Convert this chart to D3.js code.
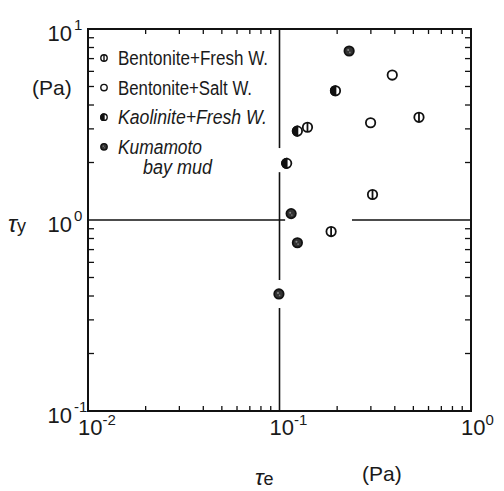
<!DOCTYPE html>
<html>
<head>
<meta charset="utf-8">
<script src="https://cdnjs.cloudflare.com/ajax/libs/d3/7.8.5/d3.min.js"></script>
<style>
  body { margin: 0; background: #fff; }
  text { font-family: "Liberation Sans", "DejaVu Sans", sans-serif; fill: #1a1a1a; }
</style>
</head>
<body>
<div id="vis"></div>
<script type="text/javascript">

    // series: tau_e (Pa) and tau_y (Pa)
    const legendLabels = ["Bentonite+Fresh W.", "Bentonite+Salt W.", "Kaolinite+Fresh W.", "Kumamoto"];
    const bentFreshTe = [0.140, 0.535, 0.306, 0.186];
    const bentFreshTy = [3.06, 3.45, 1.36, 0.87];
    const bentSaltTe = [0.388, 0.299];
    const bentSaltTy = [5.74, 3.23];
    const kaolTe = [0.196, 0.124, 0.109];
    const kaolTy = [4.75, 2.92, 1.98];
    const kumaTe = [0.231, 0.115, 0.124, 0.0993];
    const kumaTy = [7.67, 1.08, 0.76, 0.41];

    const xDecades = [-2, -1, 0];
    const yDecades = [-1, 0, 1];

    // reference cross lines (broken where the original leaves gaps)
    const hLineSegs = [[0.01, 0.107], [0.239, 1]];
    const vLineSegs = [[10, 2.38], [1.78, 0.485], [0.346, 0.1]];

    const W = 504, H = 491;
    const svg = d3.select("#vis").append("svg").attr("width", W).attr("height", H);

    const x = d3.scaleLog().domain([0.01, 1]).range([88, 471]);
    const y = d3.scaleLog().domain([0.1, 10]).range([411, 29]);

    // minor ticks
    const minor = [];
    for (let e = -2; e < 0; e++) for (let m = 2; m <= 9; m++) minor.push(m * Math.pow(10, e));
    const minorY = minor.map(v => v * 10);

    const tickG = svg.append("g").style("stroke", "#111").style("stroke-width", 1.3);
    tickG.selectAll(".tb").data(minor).enter().append("line")
        .attr("x1", d => x(d)).attr("x2", d => x(d))
        .attr("y1", y(0.1)).attr("y2", y(0.1) - 5);
    tickG.selectAll(".tt").data(minor).enter().append("line")
        .attr("x1", d => x(d)).attr("x2", d => x(d))
        .attr("y1", y(10)).attr("y2", y(10) + 5);
    tickG.selectAll(".tl").data(minorY).enter().append("line")
        .attr("x1", x(0.01)).attr("x2", x(0.01) + 6)
        .attr("y1", d => y(d)).attr("y2", d => y(d));
    tickG.selectAll(".tr").data(minorY).enter().append("line")
        .attr("x1", x(1)).attr("x2", x(1) - 6)
        .attr("y1", d => y(d)).attr("y2", d => y(d));

    // frame
    svg.append("rect")
        .attr("x", x(0.01)).attr("y", y(10))
        .attr("width", x(1) - x(0.01)).attr("height", y(0.1) - y(10))
        .style("fill", "none").style("stroke", "#111").style("stroke-width", 2);

    // cross lines
    svg.selectAll(".hl").data(hLineSegs).enter().append("line")
        .attr("x1", d => x(d[0])).attr("x2", d => x(d[1]))
        .attr("y1", y(1)).attr("y2", y(1))
        .style("stroke", "#111").style("stroke-width", 1.6);
    svg.selectAll(".vl").data(vLineSegs).enter().append("line")
        .attr("x1", x(0.1)).attr("x2", x(0.1))
        .attr("y1", d => y(d[0])).attr("y2", d => y(d[1]))
        .style("stroke", "#111").style("stroke-width", 1.6);

    // symbols
    function drawSymbol(g, kind, cx, cy, r) {
        const sw = r > 4 ? 1.8 : 1.4;
        if (kind === 0) {
            g.append("circle").attr("cx", cx).attr("cy", cy).attr("r", r)
                .style("fill", "#fff").style("stroke", "#111").style("stroke-width", sw);
            g.append("line").attr("x1", cx).attr("x2", cx).attr("y1", cy - r).attr("y2", cy + r)
                .style("stroke", "#111").style("stroke-width", sw);
        } else if (kind === 1) {
            g.append("circle").attr("cx", cx).attr("cy", cy).attr("r", r)
                .style("fill", "#fff").style("stroke", "#111").style("stroke-width", sw);
        } else if (kind === 2) {
            g.append("circle").attr("cx", cx).attr("cy", cy).attr("r", r)
                .style("fill", "#fff").style("stroke", "#111").style("stroke-width", sw);
            g.append("path")
                .attr("d", `M${cx},${cy - r} A${r},${r} 0 0 0 ${cx},${cy + r} Z`)
                .style("fill", "#111").style("stroke", "#111").style("stroke-width", sw);
        } else {
            g.append("circle").attr("cx", cx).attr("cy", cy).attr("r", r)
                .style("fill", "#333").style("stroke", "#111").style("stroke-width", sw);
            g.append("circle").attr("cx", cx - r * 0.2).attr("cy", cy - r * 0.2).attr("r", r * 0.22)
                .style("fill", "#888");
            g.append("circle").attr("cx", cx + r * 0.15).attr("cy", cy + r * 0.3).attr("r", r * 0.18)
                .style("fill", "#777");
        }
    }

    const series = [
        [bentFreshTe, bentFreshTy],
        [bentSaltTe, bentSaltTy],
        [kaolTe, kaolTy],
        [kumaTe, kumaTy]
    ];
    const pts = svg.append("g");
    series.forEach((s, k) => {
        s[0].forEach((te, i) => drawSymbol(pts, k, x(te), y(s[1][i]), 4.7));
    });

    // legend
    const legX = 104, legY0 = 58, legStep = 29.6;
    const legTextW = [150, 134, 149, 84];
    const leg = svg.append("g");
    legendLabels.forEach((lab, i) => {
        const cy = legY0 + i * legStep;
        drawSymbol(leg, i, legX, cy, 3.2);
        leg.append("text").attr("x", legX + 14).attr("y", cy + 7)
            .attr("font-size", 19.5)
            .attr("textLength", legTextW[i]).attr("lengthAdjust", "spacingAndGlyphs")
            .style("font-style", i >= 2 ? "italic" : "normal")
            .text(lab);
    });
    leg.append("text").attr("x", 143).attr("y", legY0 + 3 * legStep + 27)
        .attr("font-size", 19.5).attr("textLength", 69).attr("lengthAdjust", "spacingAndGlyphs")
        .style("font-style", "italic").text("bay mud");

    // tick labels
    const xl = svg.append("g");
    xDecades.forEach(e => {
        const t = xl.append("text").attr("x", x(Math.pow(10, e)) - 10).attr("y", 435)
            .attr("font-size", 22);
        t.append("tspan").text("10");
        t.append("tspan").attr("font-size", 15).attr("dy", -10).text(e === 0 ? "0" : "-" + Math.abs(e));
    });
    const yl = svg.append("g");
    yDecades.forEach(e => {
        const t = yl.append("text").attr("x", 72).attr("y", y(Math.pow(10, e)) + 12)
            .attr("font-size", 22).attr("text-anchor", "end");
        t.append("tspan").text("10");
    });
    yDecades.forEach(e => {
        yl.append("text").attr("x", 74).attr("y", y(Math.pow(10, e)) + 1)
            .attr("font-size", 15)
            .text(e === 0 ? "0" : (e < 0 ? "-" : "") + Math.abs(e));
    });

    // axis titles
    svg.append("text").attr("x", 32).attr("y", 95).attr("font-size", 21).text("(Pa)");
    const ty = svg.append("text").attr("x", 8).attr("y", y(1) + 12).attr("font-size", 24);
    ty.append("tspan").style("font-style", "italic").text("τ");
    ty.append("tspan").attr("font-size", 18).text("y");
    svg.append("text").attr("x", 362).attr("y", 481).attr("font-size", 21).text("(Pa)");
    const te = svg.append("text").attr("x", 255).attr("y", 485).attr("font-size", 23);
    te.append("tspan").style("font-style", "italic").text("τ");
    te.append("tspan").attr("font-size", 18).text("e");

</script>
</body>
</html>
